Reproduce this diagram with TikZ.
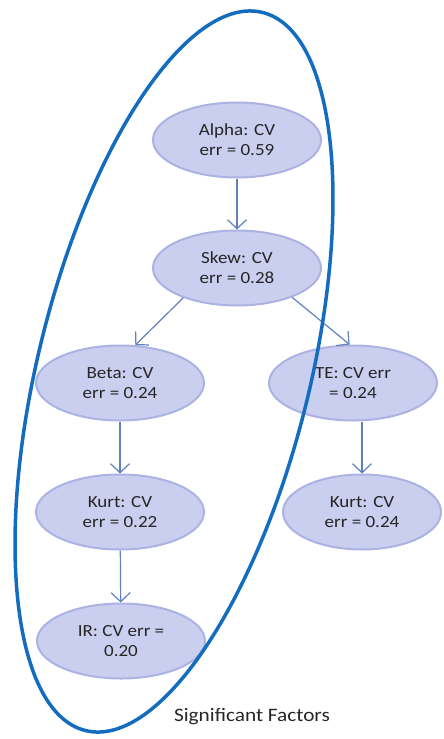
\documentclass[tikz,border=0pt]{standalone}
\usepackage{fontspec}
\setmainfont[FakeStretch=1.12]{Carlito}
\usetikzlibrary{shapes.geometric,arrows.meta}
\definecolor{nodefill}{RGB}{202,206,239}
\definecolor{nodeline}{RGB}{172,179,226}
\definecolor{arrowc}{RGB}{96,128,190}
\definecolor{bigc}{RGB}{20,108,190}
\definecolor{txt}{RGB}{38,38,38}
\tikzset{
  factor/.style={ellipse, fill=nodefill, draw=nodeline, line width=2pt,
    minimum width=168pt, minimum height=75pt, inner sep=0pt, align=center,
    text=txt, font=\fontsize{17pt}{20pt}\selectfont},
  arr/.style={draw=arrowc, line width=1.2pt,
    -{Straight Barb[length=9pt,width=19pt,line width=1.2pt]}},
  bigloop/.style={draw=bigc, line width=3.5pt},
  caption/.style={text=txt, font=\fontsize{19pt}{22pt}\selectfont}
}
\begin{document}
\begin{tikzpicture}[x=1pt,y=-1pt]
\useasboundingbox (0,0) rectangle (444,739);
\node[factor] (alpha) at (237,140) {Alpha: CV\\err = 0.59};
\node[factor] (skew)  at (237,268) {Skew: CV\\err = 0.28};
\node[factor] (beta)  at (120,383) {Beta: CV\\err = 0.24};
\node[factor] (te)    at (353,383) {TE: CV err\\= 0.24};
\node[factor] (kurtl) at (120,512) {Kurt: CV\\err = 0.22};
\node[factor, minimum width=158pt] (kurtr) at (362,512) {Kurt: CV\\err = 0.24};
\node[factor] (ir)    at (121,641) {IR: CV err =\\0.20};
\draw[arr] (alpha) -- (skew);
\draw[arr] (skew.209) -- (beta.68);
\draw[arr] (skew.332) -- (te.95);
\draw[arr] (beta) -- (kurtl);
\draw[arr] (kurtl) -- (ir);
\draw[arr] (te.south -| kurtr.north) -- (kurtr.north);
\draw[bigloop, rotate around={-13.85:(174,371.5)}] (174,371.5) ellipse [x radius=136, y radius=369.8];
\node[caption] (sig) at (252,717) {Significant Factors};
\end{tikzpicture}
\end{document}
